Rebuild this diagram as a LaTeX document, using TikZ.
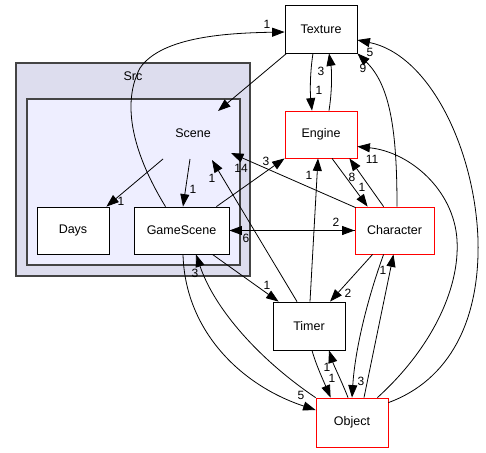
\documentclass[tikz,border=0pt]{standalone}
\usepackage{fontspec}
\setmainfont{Liberation Sans}
\usetikzlibrary{arrows.meta,calc}
\newcommand\dxfont{\fontsize{12.5}{15}\selectfont}
\newcommand\dxlfont{\fontsize{12}{14}\selectfont}
\definecolor{srcfill}{HTML}{DDDDEE}
\definecolor{scenefill}{HTML}{EEEEFF}
\definecolor{clusterline}{HTML}{444444}
\tikzset{
  dxbox/.style={draw=black, fill=white, line width=0.8pt, minimum width=72pt, minimum height=48pt, inner sep=0pt, font=\dxfont},
  dxred/.style={dxbox, draw=red},
  dxedge/.style={line width=0.8pt, -{Triangle[length=12.5pt,width=9pt]}},
  dxlbl/.style={font=\dxlfont, inner sep=0pt},
  dxcluster/.style={draw=clusterline, line width=1.3pt},
}
\begin{document}
\begin{tikzpicture}[x=1pt,y=-1pt]
\useasboundingbox (0,0) rectangle (486,452);
% clusters
\draw[dxcluster, fill=srcfill] (16,63) rectangle (250,276);
\node[font=\dxfont] (srclbl) at (133,76) {Src};
\draw[dxcluster, fill=scenefill] (27,99) rectangle (240,265);
\node[font=\dxfont] (scene) at (193,133) {Scene};
% nodes
\node[dxbox] (tex) at (321,29) {Texture};
\node[dxred, minimum height=47pt] (eng) at (321,134.5) {Engine};
\node[dxbox, minimum height=47pt] (days) at (73,230.5) {Days};
\node[dxbox, minimum width=95pt, minimum height=47pt] (gs) at (181.5,230.5) {GameScene};
\node[dxred, minimum width=79pt, minimum height=47pt] (char) at (394.5,230.5) {Character};
\node[dxbox] (timer) at (309,326) {Timer};
\node[dxred, minimum height=49pt] (obj) at (352,422.5) {Object};
% edges
\draw[dxedge] ($(scene)+(-30,26)$) -- ($(days.north east)+(-3,0)$);
\node[dxlbl] (l1) at (121,201) {1};
\draw[dxedge] ($(scene)+(-3,26)$) -- ($(gs.north)+(1.5,0)$);
\node[dxlbl] (l2) at (193,189) {1};
\draw[dxedge] ($(tex.south west)+(2,0)$) -- ($(scene)+(25,-22)$);
\draw[dxedge] ($(gs.north)+(-16,0)$) .. controls (140,165) and (118,110) .. (140,68) .. controls (162,36) and (230,33) .. ($(tex.west)+(0,3)$);
\node[dxlbl] (l4) at (267,24) {1};
\draw[dxedge] ($(timer.north)+(-12,0)$) -- ($(scene)+(19,27)$);
\node[dxlbl] (l5) at (212,178) {1};
\draw[dxedge] ($(char.north west)+(1,1)$) -- ($(scene)+(38,20)$);
\node[dxlbl] (l6) at (241,168) {14};
\draw[dxedge] ($(gs.north east)+(-13,0)$) -- (eng.south west);
\node[dxlbl] (l7) at (266,161) {3};
\draw[dxedge] ($(timer.north)+(1,0)$) -- ($(eng.south)+(-3,0)$);
\node[dxlbl] (l8) at (309,175) {1};
\draw[dxedge] ($(eng.south)+(11,0)$) -- ($(char.north west)+(13,0)$);
\node[dxlbl] (l9) at (362,187) {1};
\draw[dxedge] ($(char.north west)+(29,0)$) -- ($(eng.south east)+(-8,0)$);
\node[dxlbl] (l10) at (352,177) {8};
\draw[dxedge] ($(char.north)+(2.5,0)$) .. controls (397,130) and (390,85) .. (tex.south east);
\node[dxlbl] (l11) at (363,68) {9};
\draw[dxedge] ($(obj.north east)+(0,5)$) .. controls (450,380) and (480,320) .. (478,240) .. controls (475,150) and (430,55) .. ($(tex.east)+(0,11)$);
\node[dxlbl] (l12) at (370,52) {5};
\draw[dxedge] ($(obj.north east)+(-11,0)$) .. controls (430,350) and (460,290) .. (457,240) .. controls (454,190) and (410,152) .. ($(eng.east)+(0,12)$);
\node[dxlbl] (l13) at (372,159) {11};
\draw[dxedge] (gs.east) -- (char.west);
\draw[dxedge] (char.west) -- (gs.east);
\node[dxlbl] (l14) at (336,222) {2};
\node[dxlbl] (l14b) at (246,238) {6};
\draw[dxedge] ($(tex.south)+(-8,0)$) .. controls (310,72) and (310,92) .. ($(eng.north)+(-9,0)$);
\node[dxlbl] (l15) at (319,90) {1};
\draw[dxedge] ($(eng.north)+(8,0)$) .. controls (332,92) and (332,72) .. ($(tex.south)+(8,0)$);
\node[dxlbl] (l16) at (321,71) {3};
\draw[dxedge] ($(gs.south east)+(-17,0)$) -- ($(timer.north west)+(6,0)$);
\node[dxlbl] (l17) at (267,285) {1};
\draw[dxedge] ($(char.south west)+(18,0)$) -- ($(timer.north)+(21,0)$);
\node[dxlbl] (l18) at (348,293) {2};
\draw[dxedge] ($(char.south west)+(29,0)$) .. controls (367,300) and (355,350) .. (obj.north);
\node[dxlbl] (l19) at (361,381) {3};
\draw[dxedge] ($(obj.north)+(12,0)$) -- ($(char.south)+(-1,0)$);
\node[dxlbl] (l20) at (383,270) {1};
\draw[dxedge] ($(timer.south)+(3,0)$) .. controls (316,365) and (324,382) .. ($(obj.north west)+(15,0)$);
\node[dxlbl] (l21) at (332,378) {1};
\draw[dxedge] ($(obj.north)+(-4,0)$) .. controls (342,382) and (334,366) .. ($(timer.south)+(20,0)$);
\node[dxlbl] (l22) at (327,367) {1};
\draw[dxedge] ($(gs.south)+(1.5,0)$) .. controls (185,330) and (240,385) .. ($(obj.west)+(0,-12.5)$);
\node[dxlbl] (l23) at (301,395) {5};
\draw[dxedge] (obj.north west) .. controls (260,360) and (215,310) .. ($(gs.south)+(14.5,0)$);
\node[dxlbl] (l24) at (195,273) {3};
\end{tikzpicture}
\end{document}
